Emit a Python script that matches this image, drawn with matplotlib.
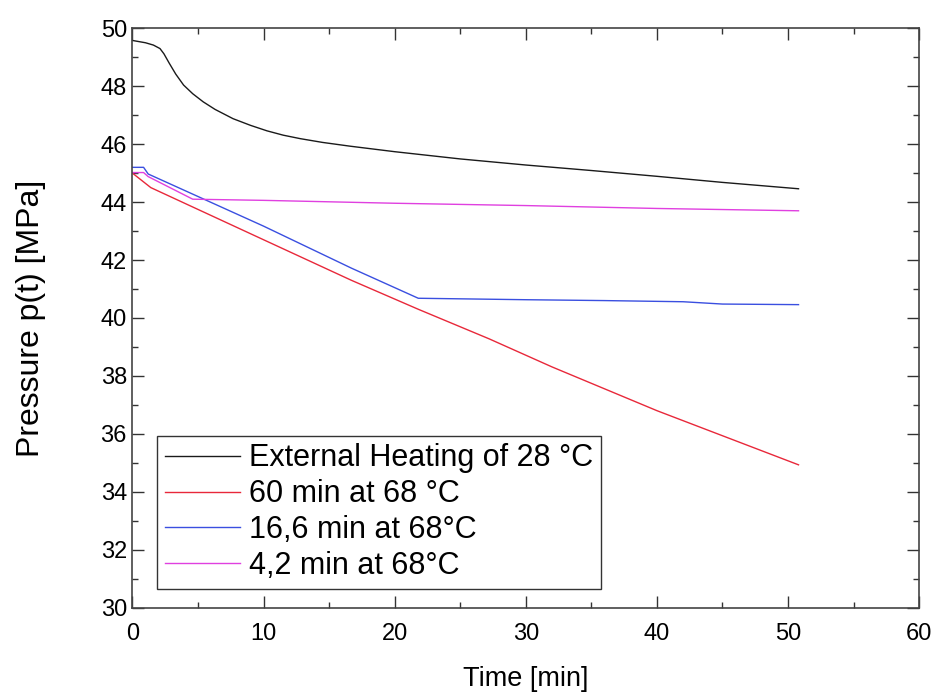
import matplotlib
matplotlib.use("Agg")
import matplotlib.pyplot as plt
from matplotlib.ticker import MultipleLocator

plt.rcParams['font.family'] = ['Liberation Sans', 'DejaVu Sans']

# Pressure curves, time in minutes and pressure in MPa
t_ext = [0.0, 1.0, 1.6, 2.1, 2.4, 2.8, 3.3, 3.9, 4.6, 5.4, 6.3, 7.67, 9.0, 10.26, 11.5,
         12.8, 14.5, 16.6, 20.0, 25.0, 30.0, 35.0, 40.0, 45.0, 50.8]
p_ext = [49.58, 49.50, 49.42, 49.30, 49.12, 48.80, 48.42, 48.04, 47.74, 47.46, 47.20, 46.88,
         46.65, 46.46, 46.31, 46.19, 46.06, 45.93, 45.74, 45.49, 45.28, 45.09, 44.89, 44.68, 44.46]

t_60 = [0.0, 1.4, 10.0, 16.7, 21.8, 27.2, 32.0, 40.0, 50.8]
p_60 = [45.00, 44.50, 42.70, 41.30, 40.30, 39.28, 38.31, 36.80, 34.93]

t_166 = [0.0, 0.85, 1.2, 10.0, 16.7, 21.8, 30.0, 36.0, 42.0, 45.0, 50.8]
p_166 = [45.20, 45.20, 44.97, 43.17, 41.72, 40.68, 40.63, 40.60, 40.56, 40.48, 40.46]

t_42 = [0.0, 0.85, 1.2, 4.6, 10.0, 20.0, 30.0, 40.0, 50.8]
p_42 = [45.02, 45.02, 44.88, 44.10, 44.06, 43.96, 43.88, 43.78, 43.70]

labels = ["External Heating of 28 °C", "60 min at 68 °C",
          "16,6 min at 68°C", "4,2 min at 68°C"]
colors = ["#1a1a1a", "#e8283a", "#3a4fe0", "#e040e0"]

fig = plt.figure(figsize=(9.34, 6.95), dpi=100)
ax = fig.add_axes([0.1418, 0.1257, 0.8423, 0.8336])

series = [(t_ext, p_ext), (t_60, p_60), (t_166, p_166), (t_42, p_42)]
for (t, p), lab, c in zip(series, labels, colors):
    ax.plot(t, p, color=c, lw=1.0, label=lab)

ax.set_xlim(0, 60)
ax.set_ylim(30, 50)
ax.xaxis.set_major_locator(MultipleLocator(10))
ax.xaxis.set_minor_locator(MultipleLocator(5))
ax.yaxis.set_major_locator(MultipleLocator(2))
ax.yaxis.set_minor_locator(MultipleLocator(1))
ax.tick_params(which='both', direction='in', top=True, right=True,
               colors='#333333', labelcolor='black', width=1.0)
ax.tick_params(which='major', length=8.5, labelsize=17)
ax.tick_params(axis='x', which='major', pad=11)
ax.tick_params(axis='y', which='major', pad=4)
ax.tick_params(which='minor', length=4.3)
for s in ax.spines.values():
    s.set_color('#444444')
    s.set_linewidth(1.2)

ax.set_xlabel("Time [min]", fontsize=19.5, labelpad=15)
ax.set_ylabel("Pressure p(t) [MPa]", fontsize=23, labelpad=39)

leg = ax.legend(loc='lower left', bbox_to_anchor=(0.0317, 0.033), fontsize=22,
                frameon=True, fancybox=False, edgecolor='black',
                handlelength=2.45, handletextpad=0.3, borderpad=0.25,
                labelspacing=0.19, borderaxespad=0)
leg.get_frame().set_linewidth(1.0)

fig.savefig("out.png", dpi=100)
